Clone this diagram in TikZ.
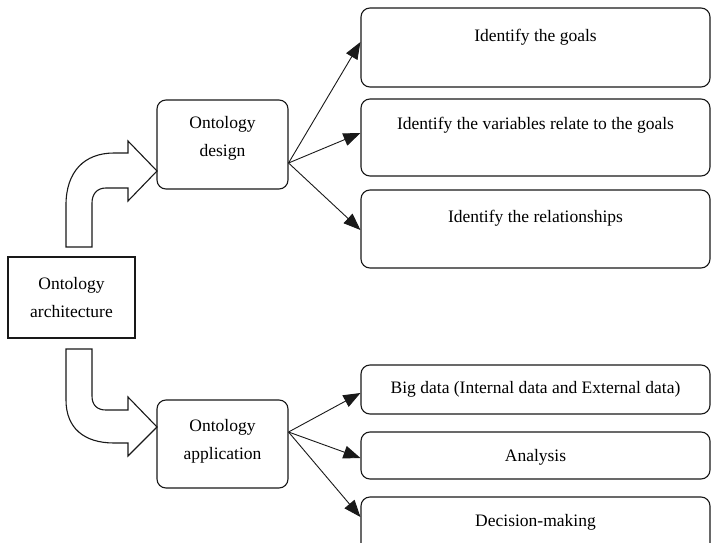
\documentclass[tikz,border=0pt]{standalone}
\usepackage{fontspec}
\setmainfont{Liberation Serif}
\usetikzlibrary{arrows.meta,calc}
\definecolor{linec}{RGB}{25,25,25}
\begin{document}
\begin{tikzpicture}[x=1pt,y=-1pt,
  plainbox/.style={draw=linec, line width=1.1pt, inner sep=0pt},
  roundbox/.style={plainbox, rounded corners=9pt},
  lbl/.style={font=\fontsize{17.5}{28}\selectfont, align=center, text=black},
  link/.style={draw=linec, line width=0.9pt, -{Triangle[length=17pt,width=13pt]}},
  block/.style={draw=linec, line width=1.1pt, fill=white, line join=miter}]
\clip (0,0) rectangle (712,543);

% left-hand boxes
\node[plainbox, minimum width=127pt, minimum height=81pt,
      label={[lbl]center:Ontology\\architecture}] (arch) at (71.5,297.5) {};
\node[roundbox, minimum width=131pt, minimum height=89pt,
      label={[lbl,yshift=6pt]center:Ontology\\design}] (design) at (222.5,144.5) {};
\node[roundbox, minimum width=131pt, minimum height=88pt,
      label={[lbl,yshift=3pt]center:Ontology\\application}] (app) at (222.5,444) {};

% design steps
\node[roundbox, minimum width=349pt, minimum height=79pt,
      label={[lbl,yshift=10pt]center:Identify the goals}] (g1) at (535.5,47.5) {};
\node[roundbox, minimum width=349pt, minimum height=77pt,
      label={[lbl,yshift=12pt]center:Identify the variables relate to the goals}] (g2) at (535.5,137.5) {};
\node[roundbox, minimum width=349pt, minimum height=78pt,
      label={[lbl,yshift=11pt]center:Identify the relationships}] (g3) at (535.5,229) {};

% application steps
\node[roundbox, minimum width=349pt, minimum height=49pt,
      label={[lbl]center:Big data (Internal data and External data)}] (b1) at (535.5,389.5) {};
\node[roundbox, minimum width=349pt, minimum height=47pt,
      label={[lbl,yshift=-2pt]center:Analysis}] (b2) at (535.5,455.5) {};
\node[roundbox, minimum width=349pt, minimum height=58pt,
      label={[lbl,yshift=4pt]center:Decision-making}] (b3) at (535.5,526) {};

% fan-out connectors
\draw[link] ($(design.east)+(0,18.5)$) -- ($(g1.west)+(0,-5.5)$);
\draw[link] ($(design.east)+(0,18.5)$) -- ($(g2.west)+(0,-4.5)$);
\draw[link] ($(design.east)+(0,18.5)$) -- ($(g3.west)+(0,1)$);
\draw[link] ($(app.east)+(0,-12)$) -- ($(b1.west)+(0,3.5)$);
\draw[link] ($(app.east)+(0,-12)$) -- ($(b2.west)+(0,2.5)$);
\draw[link] ($(app.east)+(0,-12)$) -- ($(b3.west)+(0,-9)$);

% bent block arrow up to the design box
\draw[block] (66,247) -- (66,205) .. controls (66,172) and (84,153) .. (114,153)
  -- (128,153) -- (128,141) -- (157,171) -- (128,201) -- (128,188) -- (106,188)
  .. controls (97,188) and (92,194) .. (92,203) -- (92,247) -- cycle;

% bent block arrow down to the application box
\draw[block] (66,349) -- (92,349) -- (92,396) .. controls (92,405) and (97,410) .. (106,410)
  -- (128,410) -- (128,397) -- (157,427) -- (128,456) -- (128,443) -- (114,443)
  .. controls (84,443) and (66,428) .. (66,400) -- cycle;
\end{tikzpicture}
\end{document}
